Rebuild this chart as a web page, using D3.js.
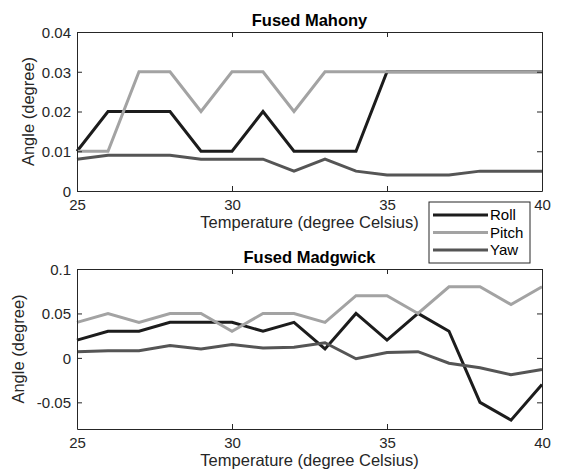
<!DOCTYPE html>
<html>
<head>
<meta charset="utf-8">
<script src="https://cdn.jsdelivr.net/npm/d3@7"></script>
<style>
  body { margin: 0; background: #fff; }
  svg { display: block; font-family: "Liberation Sans", Arial, sans-serif; }
</style>
</head>
<body>
<svg id="chart" width="563" height="472"></svg>
<script>
// temperatures (degree Celsius)
const temps = [25, 26, 27, 28, 29, 30, 31, 32, 33, 34, 35, 36, 37, 38, 39, 40];

// Fused Mahony
const mahonyRoll  = [0.01, 0.02, 0.02, 0.02, 0.01, 0.01, 0.02, 0.01, 0.01, 0.01, 0.03, 0.03, 0.03, 0.03, 0.03, 0.03];
const mahonyPitch = [0.01, 0.01, 0.03, 0.03, 0.02, 0.03, 0.03, 0.02, 0.03, 0.03, 0.03, 0.03, 0.03, 0.03, 0.03, 0.03];
const mahonyYaw   = [0.008, 0.009, 0.009, 0.009, 0.008, 0.008, 0.008, 0.005, 0.008, 0.005, 0.004, 0.004, 0.004, 0.005, 0.005, 0.005];

// Fused Madgwick
const madgRoll  = [0.02, 0.03, 0.03, 0.04, 0.04, 0.04, 0.03, 0.04, 0.01, 0.05, 0.02, 0.05, 0.03, -0.05, -0.07, -0.03];
const madgPitch = [0.04, 0.05, 0.04, 0.05, 0.05, 0.03, 0.05, 0.05, 0.04, 0.07, 0.07, 0.05, 0.08, 0.08, 0.06, 0.08];
const madgYaw   = [0.007, 0.008, 0.008, 0.014, 0.010, 0.015, 0.011, 0.012, 0.017, -0.001, 0.006, 0.007, -0.006, -0.011, -0.019, -0.013];

const seriesNames = ["Roll", "Pitch", "Yaw"];
const xTicks = [25, 30, 35, 40];
const mahonyTicks = [0, 0.01, 0.02, 0.03, 0.04];
const madgTicks = [-0.05, 0, 0.05, 0.1];

const COLORS = { Roll: "#1c1c1c", Pitch: "#a3a3a3", Yaw: "#555555" };
const AX_COLOR = "#262626";
const LINE_W = 3;
const TICK_LEN = 5;
const TICK_FONT = "15px";
const LABEL_FONT = "16.5px";

const svg = d3.select("#chart");
svg.append("rect").attr("width", 563).attr("height", 472).attr("fill", "#fff");

// MATLAB prints a plain hyphen for negatives
const fmt = (d) => d3.format("~g")(d).replace("\u2212", "-");

function drawPanel(opts) {
  const x = d3.scaleLinear().domain([25, 40]).range([opts.left, opts.right]);
  const y = d3.scaleLinear().domain(opts.yDomain).range([opts.bottom, opts.top]);
  const g = svg.append("g");

  // lines
  const line = d3.line().x((d, i) => x(temps[i])).y((d) => y(d));
  opts.series.forEach((vals, k) => {
    g.append("path")
      .attr("d", line(vals))
      .attr("fill", "none")
      .attr("stroke", COLORS[seriesNames[k]])
      .attr("stroke-width", LINE_W)
      .attr("stroke-linejoin", "miter");
  });

  // axes (box on, ticks inward)
  const bottomAx = g.append("g").attr("transform", `translate(0,${opts.bottom})`)
    .call(d3.axisBottom(x).tickValues(xTicks).tickSizeInner(-TICK_LEN).tickSizeOuter(0).tickPadding(8));
  const topAx = g.append("g").attr("transform", `translate(0,${opts.top})`)
    .call(d3.axisTop(x).tickValues(xTicks).tickSizeInner(-TICK_LEN).tickSizeOuter(0).tickFormat(""));
  const leftAx = g.append("g").attr("transform", `translate(${opts.left},0)`)
    .call(d3.axisLeft(y).tickValues(opts.yTicks).tickSizeInner(-TICK_LEN).tickSizeOuter(0).tickPadding(6).tickFormat(fmt));
  const rightAx = g.append("g").attr("transform", `translate(${opts.right},0)`)
    .call(d3.axisRight(y).tickValues(opts.yTicks).tickSizeInner(-TICK_LEN).tickSizeOuter(0).tickFormat(""));

  [bottomAx, topAx, leftAx, rightAx].forEach((a) => {
    a.select(".domain").attr("stroke", AX_COLOR).attr("stroke-width", 1);
    a.selectAll(".tick line").attr("stroke", AX_COLOR).attr("stroke-width", 1);
    a.selectAll("text").attr("fill", AX_COLOR).style("font-size", TICK_FONT)
      .style("font-family", "Liberation Sans, Arial, sans-serif");
  });
  leftAx.selectAll("text").attr("dy", "0.36em");

  // title
  svg.append("text")
    .attr("x", (opts.left + opts.right) / 2)
    .attr("y", opts.titleY)
    .attr("text-anchor", "middle")
    .attr("font-weight", "bold")
    .attr("font-size", "16.5px")
    .attr("fill", "#000")
    .text(opts.title);

  // x label
  svg.append("text")
    .attr("x", (opts.left + opts.right) / 2)
    .attr("y", opts.xLabelY)
    .attr("text-anchor", "middle")
    .attr("font-size", LABEL_FONT)
    .attr("fill", AX_COLOR)
    .text("Temperature (degree Celsius)");

  // y label
  svg.append("text")
    .attr("transform", `translate(${opts.yLabelX},${(opts.top + opts.bottom) / 2}) rotate(-90)`)
    .attr("text-anchor", "middle")
    .attr("font-size", LABEL_FONT)
    .attr("fill", AX_COLOR)
    .text("Angle (degree)");
}

drawPanel({
  title: "Fused Mahony",
  left: 77, right: 542, top: 32, bottom: 191,
  yDomain: [0, 0.04], yTicks: mahonyTicks,
  series: [mahonyRoll, mahonyPitch, mahonyYaw],
  titleY: 26, xLabelY: 228, yLabelX: 34
});

drawPanel({
  title: "Fused Madgwick",
  left: 77, right: 542, top: 269, bottom: 429,
  yDomain: [-0.08, 0.1], yTicks: madgTicks,
  series: [madgRoll, madgPitch, madgYaw],
  titleY: 263, xLabelY: 466, yLabelX: 24
});

// legend
const legend = svg.append("g").attr("transform", "translate(429,202)");
legend.append("rect")
  .attr("width", 101).attr("height", 61)
  .attr("fill", "#fff").attr("stroke", AX_COLOR).attr("stroke-width", 1);
const rows = legend.selectAll("g.row").data(seriesNames).enter().append("g")
  .attr("class", "row")
  .attr("transform", (d, i) => `translate(0,${13 + i * 17.5})`);
rows.append("line")
  .attr("x1", 4).attr("x2", 59)
  .attr("stroke", (d) => COLORS[d]).attr("stroke-width", LINE_W);
rows.append("text")
  .attr("x", 61).attr("dy", "0.36em")
  .attr("font-size", "15px").attr("fill", "#000")
  .text((d) => d);
</script>
</body>
</html>
